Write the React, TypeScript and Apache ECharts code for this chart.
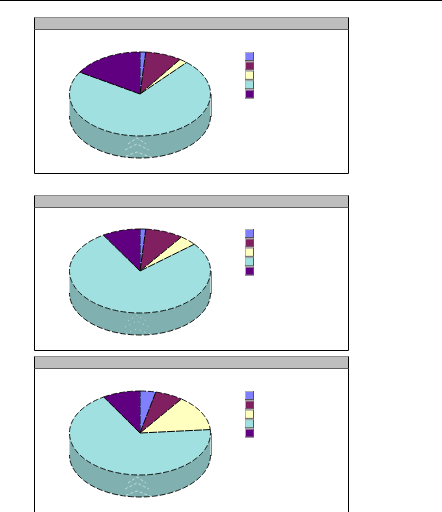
import React, { useEffect, useRef } from "react";
import * as echarts from "echarts";

const categories = ["A", "B", "C", "D", "E"];
const sliceColors = ["#8080FF", "#802060", "#FFFFC0", "#A0E0E0", "#600080"];
const sideColors = ["#6060C0", "#601848", "#C0C090", "#80B0B0", "#480060"];
const valuesTop = [1.3, 8.3, 1.9, 72.2, 16.3];
const valuesMiddle = [1.3, 8.7, 4.0, 77.3, 8.7];
const valuesBottom = [3.6, 6.4, 13.7, 67.7, 8.6];
const panelTops = [17, 195, 356];
const panelHeights = [156, 155, 170];
const pieCenterY = [94, 271, 433];

const PX = 34.5, PW = 314, CX = 140, RX = 70.5, RY = 42, DEPTH = 22;

function pt(cy: number, tDeg: number, drop = 0): number[] {
  const t = (tDeg * Math.PI) / 180;
  return [CX + RX * Math.sin(t), cy - RY * Math.cos(t) + drop];
}

function arc(cy: number, a: number, b: number, drop = 0): number[][] {
  const n = Math.max(2, Math.ceil((b - a) / 2));
  const out: number[][] = [];
  for (let i = 0; i <= n; i++) out.push(pt(cy, a + ((b - a) * i) / n, drop));
  return out;
}

function pieSeries(values: number[], cy: number, name: string) {
  const renderItem = (_p: any, api: any) => {
    const idx = api.value(0);
    let start = 0;
    for (let i = 0; i < idx; i++) start += values[i];
    const a = (start / 100) * 360;
    const b = a + (api.value(1) / 100) * 360;
    const lo = Math.max(a, 90), hi = Math.min(b, 270);
    const children: any[] = [];
    if (hi > lo) {
      const top = arc(cy, lo, hi);
      const bottom = arc(cy, lo, hi, DEPTH).reverse();
      children.push({
        type: "polygon",
        shape: { points: top.concat(bottom) },
        style: { fill: sideColors[idx], stroke: "none" },
      });
      children.push({
        type: "polyline",
        shape: { points: arc(cy, lo, hi, DEPTH) },
        style: { fill: "none", stroke: "#000", lineWidth: 0.9, lineDash: [6, 2] },
      });
    }
    children.push({
      type: "polygon",
      shape: { points: [[CX, cy]].concat(arc(cy, a, b)) },
      style: { fill: sliceColors[idx], stroke: "none" },
    });
    children.push({
      type: "polyline",
      shape: { points: arc(cy, a, b) },
      style: { fill: "none", stroke: "#000", lineWidth: 0.9, lineDash: [6, 2] },
    });
    children.push({
      type: "line",
      shape: { x1: CX, y1: cy, x2: pt(cy, a)[0], y2: pt(cy, a)[1] },
      style: { stroke: "#000", lineWidth: 1, lineDash: [8, 1] },
    });
    return { type: "group", children };
  };
  return {
    type: "custom",
    name,
    coordinateSystem: "none",
    silent: true,
    renderItem,
    data: values.map((v, i) => ({ name: categories[i], value: [i, v] })),
  };
}

function chevrons(cy: number, dash: number[]) {
  const out: any[] = [];
  [0, 6, 14].forEach((d) => {
    out.push({
      type: "polyline",
      z: 5,
      shape: { points: [[137 - 9 - d / 2, cy + 50 + d], [137, cy + 44 + d], [137 + 9 + d / 2, cy + 50 + d]] },
      style: { fill: "none", stroke: "#CFE6E6", lineWidth: 1, lineDash: dash, opacity: 0.8 },
    });
  });
  return out;
}

function panel(i: number) {
  const top = panelTops[i];
  const cy = pieCenterY[i];
  const items: any[] = [
    { type: "rect", z: 0, shape: { x: PX, y: top + 0.5, width: PW, height: panelHeights[i] }, style: { fill: "#FFF", stroke: "#000", lineWidth: 1 } },
    { type: "rect", z: 0, shape: { x: PX + 0.5, y: top + 1, width: PW - 1, height: 11 }, style: { fill: "#BEBEBE" } },
    { type: "line", z: 0, shape: { x1: PX, y1: top + 12.5, x2: PX + PW, y2: top + 12.5 }, style: { stroke: "#606060", lineWidth: 1 } },
    { type: "line", z: 0, shape: { x1: PX, y1: top + 0.5, x2: PX + PW, y2: top + 0.5 }, style: { stroke: "#8C8C8C", lineWidth: 1 } },
    { type: "line", z: 5, shape: { x1: CX + RX + 1, y1: cy, x2: CX + RX + 1, y2: cy + DEPTH + 1 }, style: { stroke: "#808080", lineWidth: 1 } },
  ];
  categories.forEach((_c, k) => {
    const y = cy - 42 + k * 9.4;
    items.push({ type: "rect", z: 1, shape: { x: 245, y, width: 9, height: 9 }, style: { fill: "#555" } });
    items.push({ type: "rect", z: 1, shape: { x: 245, y, width: 8, height: 8 }, style: { fill: "#B0B0B0" } });
    items.push({ type: "rect", z: 1, shape: { x: 246, y: y + 1, width: 7, height: 7 }, style: { fill: sliceColors[k] } });
  });
  return items.concat(chevrons(cy, i === 1 ? [1, 4] : [3, 2]));
}

export default function App() {
  const ref = useRef<HTMLDivElement>(null);
  useEffect(() => {
    document.body.style.margin = "0";
    document.body.style.overflow = "hidden";
    const chart = echarts.init(ref.current!, null, { renderer: "svg" });
    chart.setOption({
      animation: false,
      backgroundColor: "#FFFFFF",
      graphic: {
        elements: [
          { type: "rect", z: 0, shape: { x: 0, y: 0, width: 442, height: 1 }, style: { fill: "#000" } },
          ...panel(0),
          ...panel(1),
          ...panel(2),
        ],
      },
      series: [
        pieSeries(valuesTop, pieCenterY[0], "Top"),
        pieSeries(valuesMiddle, pieCenterY[1], "Middle"),
        pieSeries(valuesBottom, pieCenterY[2], "Bottom"),
      ],
    });
    return () => chart.dispose();
  }, []);
  return <div ref={ref} style={{ position: "absolute", left: 0, top: 0, width: 442, height: 512 }} />;
}
